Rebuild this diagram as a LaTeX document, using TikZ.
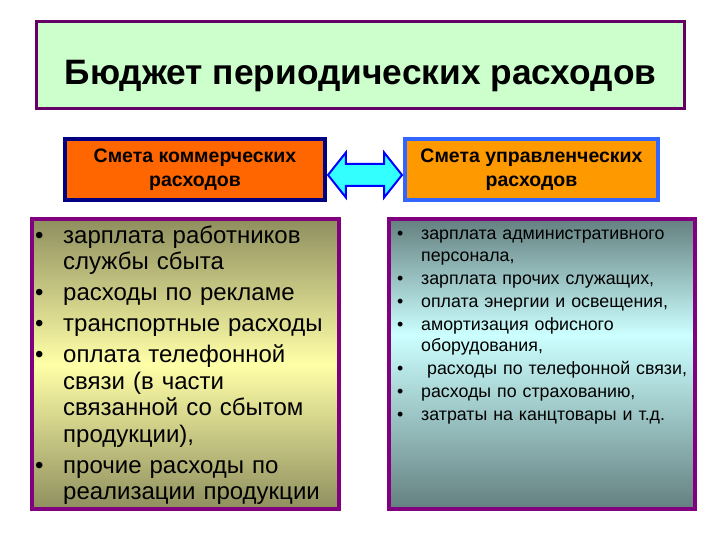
\documentclass[tikz,border=0pt]{standalone}
\usepackage{fontspec}
\setmainfont{Liberation Sans}
\usetikzlibrary{positioning,shapes.arrows,calc}
\definecolor{TitleGreen}{HTML}{CCFFCC}
\definecolor{TitlePurple}{HTML}{660066}
\definecolor{BoxPurple}{HTML}{800080}
\definecolor{HeadRed}{HTML}{FF6600}
\definecolor{HeadNavy}{HTML}{000080}
\definecolor{HeadOrange}{HTML}{FF9900}
\definecolor{HeadBlue}{HTML}{3366FF}
\definecolor{ArrowCyan}{HTML}{33FFFF}
\definecolor{OliveEdge}{HTML}{8F8F5F}
\definecolor{PaleYellow}{HTML}{FFFFA8}
\definecolor{TealEdge}{HTML}{648080}
\definecolor{PaleCyan}{HTML}{CCFFFF}
\pgfdeclareverticalshading{oliveband}{100bp}{color(0bp)=(OliveEdge); color(25bp)=(OliveEdge); color(50bp)=(PaleYellow); color(75bp)=(OliveEdge); color(100bp)=(OliveEdge)}
\pgfdeclareverticalshading{tealband}{100bp}{color(0bp)=(TealEdge); color(25bp)=(TealEdge); color(55bp)=(PaleCyan); color(75bp)=(TealEdge); color(100bp)=(TealEdge)}
\newlength{\bulletgap}
\newcommand{\bitem}[1]{\par\noindent\hangindent=\bulletgap\hangafter=1\makebox[\bulletgap][l]{\hspace{3bp}\textbullet}#1}

\begin{document}
\begin{tikzpicture}[x=1bp, y=1bp,
  title/.style={draw=TitlePurple, line width=3bp, fill=TitleGreen, minimum width=648bp, minimum height=87bp, inner sep=0pt, font=\bfseries\fontsize{35.3bp}{40bp}\selectfont, text height=44bp, text depth=4bp},
  head/.style={line width=4bp, minimum height=61bp, inner sep=0pt, align=center, font=\bfseries\fontsize{19.5bp}{24bp}\selectfont},
  body/.style={draw=BoxPurple, line width=4bp, minimum height=290bp, inner sep=0pt},
  list/.style={anchor=north west, inner sep=0pt, align=left},
  twoway/.style={double arrow, draw=blue, line width=2bp, fill=ArrowCyan, minimum height=74bp, minimum width=43bp, inner sep=10bp, double arrow head extend=11.5bp, double arrow tip angle=103}]
\useasboundingbox (0,0) rectangle (720,540);
\node[title] (title) at (360.5,475) {Бюджет периодических расходов};
\node[head, draw=HeadNavy, fill=HeadRed, minimum width=260bp] (lhead) at (195,370.5) {Смета коммерческих\\расходов};
\node[head, draw=HeadBlue, fill=HeadOrange, minimum width=253bp] (rhead) at (531.5,370.5) {Смета управленческих\\расходов};
\node[twoway] (arr) at ($(lhead.east)!0.5!(rhead.west)+(0,-5.5)$) {};
\node[body, shading=oliveband, minimum width=307bp] (lbody) at (185.5,176) {};
\node[body, shading=tealband, minimum width=306bp] (rbody) at (542,176) {};
% list texts
\node[list, text width=303bp, font=\fontsize{24bp}{26.5bp}\selectfont] (ltext) at ($(lbody.north west)+(2,5)$) {%
  \setlength{\bulletgap}{31bp}\setlength{\parskip}{4.5bp}%
  \bitem{зарплата работников\newline службы сбыта}
  \bitem{расходы по рекламе}
  \bitem{транспортные расходы}
  \bitem{оплата телефонной\newline связи (в части\newline связанной со сбытом\newline продукции),}
  \bitem{прочие расходы по\newline реализации продукции}\par};
\node[list, text width=298bp, font=\fontsize{17.8bp}{21.8bp}\selectfont] (rtext) at ($(rbody.north west)+(7,0)$) {%
  \setlength{\bulletgap}{27bp}\setlength{\parskip}{1bp}%
  \bitem{зарплата административного\newline персонала,}
  \bitem{зарплата прочих служащих,}
  \bitem{оплата энергии и освещения,}
  \bitem{амортизация офисного\newline оборудования,}
  \bitem{\ расходы по телефонной связи,}
  \bitem{расходы по страхованию,}
  \bitem{затраты на канцтовары и т.д.}\par};
\end{tikzpicture}
\end{document}
